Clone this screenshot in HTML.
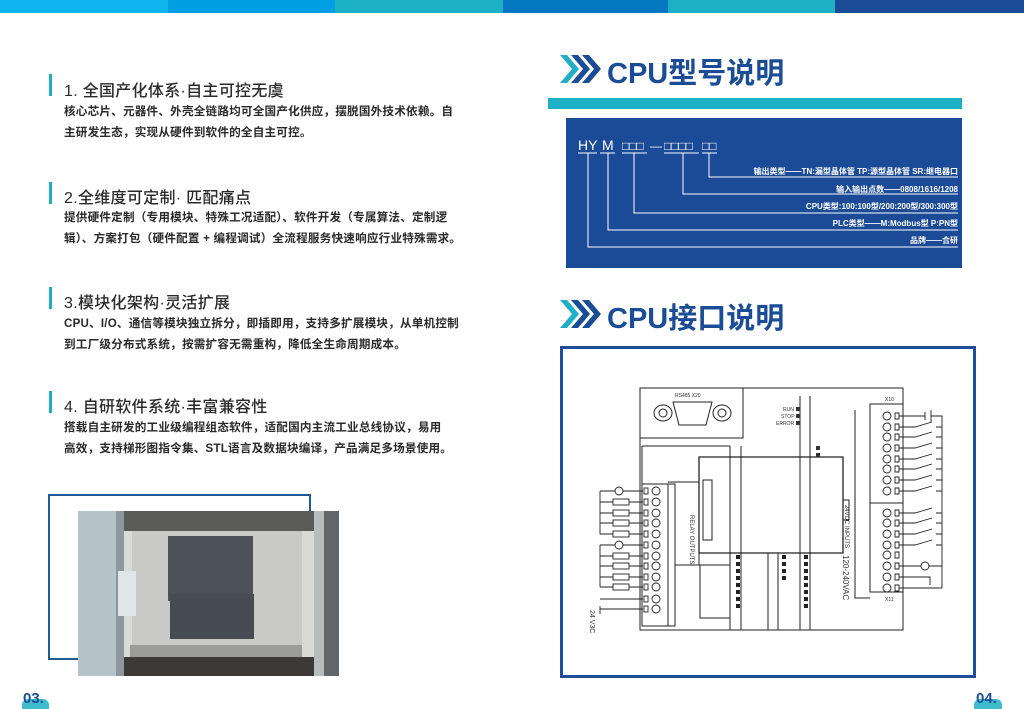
<!DOCTYPE html>
<html><head><meta charset="utf-8"><style>
*{margin:0;padding:0;box-sizing:border-box}
body{width:1024px;height:709px;overflow:hidden;background:#fff;position:relative;font-family:"Liberation Sans","Noto Sans CJK SC",sans-serif;color:#333}
.a{position:absolute}
.bar{position:absolute;top:0;height:13px}
.h{position:absolute;left:64px;font-size:16px;color:#2a2a2a;white-space:nowrap;font-weight:500;letter-spacing:0.3px}
.vb{position:absolute;left:49px;width:3px;height:22px;background:#1cb0bf}
.p{position:absolute;left:64px;font-size:11.6px;line-height:20.5px;color:#2a2a2a;white-space:nowrap;font-weight:bold;letter-spacing:0.2px}
.t{position:absolute;font-size:29px;font-weight:bold;color:#1b4c96;white-space:nowrap}
</style></head><body>
<div class="bar" style="left:0;width:168px;background:#0db4ee"></div>
<div class="bar" style="left:168px;width:167px;background:#009fe3"></div>
<div class="bar" style="left:335px;width:168px;background:#1cb1c4"></div>
<div class="bar" style="left:503px;width:165px;background:#0478c0"></div>
<div class="bar" style="left:668px;width:167px;background:#1cb1c4"></div>
<div class="bar" style="left:835px;width:189px;background:#1b4a96"></div>

<div class="vb" style="top:74px"></div>
<div class="h" style="top:77px">1. 全国产化体系·自主可控无虞</div>
<div class="p" style="top:102px">核心芯片、元器件、外壳全链路均可全国产化供应，摆脱国外技术依赖。自<br>主研发生态，实现从硬件到软件的全自主可控。</div>
<div class="vb" style="top:182px"></div>
<div class="h" style="top:184px">2.全维度可定制· 匹配痛点</div>
<div class="p" style="top:208px">提供硬件定制（专用模块、特殊工况适配）、软件开发（专属算法、定制逻<br>辑）、方案打包（硬件配置 + 编程调试）全流程服务快速响应行业特殊需求。</div>
<div class="vb" style="top:287px"></div>
<div class="h" style="top:289px">3.模块化架构·灵活扩展</div>
<div class="p" style="top:314px">CPU、I/O、通信等模块独立拆分，即插即用，支持多扩展模块，从单机控制<br>到工厂级分布式系统，按需扩容无需重构，降低全生命周期成本。</div>
<div class="vb" style="top:391px"></div>
<div class="h" style="top:393px">4. 自研软件系统·丰富兼容性</div>
<div class="p" style="top:418px">搭载自主研发的工业级编程组态软件，适配国内主流工业总线协议，易用<br>高效，支持梯形图指令集、STL语言及数据块编译，产品满足多场景使用。</div>

<!-- photo -->
<div class="a" style="left:48px;top:494px;width:263px;height:166px;border:2px solid #1f5a92"></div>
<div class="a" style="left:78px;top:511px;width:261px;height:165px;background:#d9d9d6;overflow:hidden">
 <div class="a" style="left:0;top:0;width:38px;height:165px;background:#b7c3cb"></div>
 <div class="a" style="left:38px;top:0;width:8px;height:165px;background:#8f979c"></div>
 <div class="a" style="left:46px;top:0;width:190px;height:20px;background:#5a5a58"></div>
 <div class="a" style="left:54px;top:20px;width:170px;height:135px;background:#c9cac7"></div>
 <div class="a" style="left:90px;top:25px;width:85px;height:65px;background:#4c5258"></div>
 <div class="a" style="left:92px;top:83px;width:84px;height:45px;background:#474c52"></div>
 <div class="a" style="left:52px;top:134px;width:172px;height:12px;background:#9c9d9b"></div>
 <div class="a" style="left:46px;top:146px;width:190px;height:19px;background:#3c3a38"></div>
 <div class="a" style="left:40px;top:60px;width:18px;height:45px;background:#dfe5e8"></div>
 <div class="a" style="left:236px;top:0;width:25px;height:165px;background:#b9bcbd"></div>
 <div class="a" style="left:246px;top:0;width:15px;height:165px;background:#62676b"></div>
</div>
<div class="a" style="left:22px;top:699px;width:27px;height:10px;border-radius:6px 6px 0 0;background:#1cb0c4;opacity:.85"></div>
<div class="a" style="left:23px;top:690px;font-size:15px;font-weight:bold;color:#1b4c96">03.</div>
<div class="a" style="left:974px;top:699px;width:28px;height:10px;border-radius:6px 6px 0 0;background:#1cb0c4;opacity:.85"></div>
<div class="a" style="left:976px;top:690px;font-size:15px;font-weight:bold;color:#1b4c96">04.</div>

<!-- right titles -->
<svg class="a" style="left:560px;top:53px" width="42" height="32" viewBox="0 0 42 32">
<polygon points="0,2 7,2 19,16 7,30 0,30 12,16" fill="#22aec7"/>
<polygon points="11,2 18,2 30,16 18,30 11,30 23,16" fill="#1b4c96"/>
<polygon points="22,2 29,2 41,16 29,30 22,30 34,16" fill="#1b4c96"/>
</svg>
<div class="t" style="left:607px;top:50px">CPU型号说明</div>
<svg class="a" style="left:560px;top:298px" width="42" height="32" viewBox="0 0 42 32">
<polygon points="0,2 7,2 19,16 7,30 0,30 12,16" fill="#22aec7"/>
<polygon points="11,2 18,2 30,16 18,30 11,30 23,16" fill="#1b4c96"/>
<polygon points="22,2 29,2 41,16 29,30 22,30 34,16" fill="#1b4c96"/>
</svg>
<div class="t" style="left:607px;top:295px">CPU接口说明</div>

<div class="a" style="left:548px;top:98px;width:414px;height:11px;background:#1cb1c4"></div>
<div class="a" style="left:566px;top:118px;width:396px;height:150px;background:#1b4a96"></div>
<svg class="a" style="left:566px;top:118px" width="396" height="150">
<g fill="#fff" font-family="Liberation Sans, Noto Sans CJK SC, sans-serif">
<text x="12" y="32" font-size="14">HY</text>
<text x="36" y="32" font-size="14">M</text>
<text x="56" y="32" font-size="12">□□□</text>
<text x="84" y="32" font-size="12">—</text>
<text x="98" y="32" font-size="12">□□□□</text>
<text x="136" y="32" font-size="12">□□</text>
<g font-size="8" text-anchor="end" font-weight="bold">
<text x="392" y="56">输出类型——TN:漏型晶体管 TP:源型晶体管 SR:继电器口</text>
<text x="392" y="74">输入输出点数——0808/1616/1208</text>
<text x="392" y="91">CPU类型:100:100型/200:200型/300:300型</text>
<text x="392" y="108">PLC类型——M:Modbus型 P:PN型</text>
<text x="392" y="125">品牌——合研</text>
</g></g>
<g stroke="#fff" stroke-width="1" fill="none">
<path d="M12 35H31M34 35H49M56 35H81M98 35H133M136 35H151"/>
<path d="M143 35V59H392"/>
<path d="M117 35V76H392"/>
<path d="M68 35V95H392"/>
<path d="M42 35V112H392"/>
<path d="M22 35V129H392"/>
</g>
</svg>

<!-- interface frame -->
<div class="a" style="left:560px;top:346px;width:416px;height:332px;border:3px solid #1f4e96"></div>
<svg class="a" style="left:560px;top:346px" width="416" height="332" font-family="Liberation Sans, sans-serif">
<g transform="translate(-560,-346)" stroke="#222" fill="none" stroke-width="1">
<path d="M640 388H903V630H640Z"/>
<path d="M640 438H743V388"/>
<path d="M743 388V438M730 446V630M741 446V630M800 396V630M810 396V630"/>
<path d="M642 446H730M642 446V484"/>
<path d="M699 457H843V553H699Z" stroke-width="1.3"/>
<path d="M699 457V482H668M699 553V565H675V626M668 484V626"/>
<path d="M700 565H730V618H700Z"/>
<ellipse cx="663" cy="413" rx="9" ry="8"/><ellipse cx="663" cy="413" rx="4" ry="4"/>
<ellipse cx="722" cy="413" rx="9" ry="8"/><ellipse cx="722" cy="413" rx="4" ry="4"/>
<path d="M673 402H712L706 425H679Z"/>
<path d="M642 484H675V626H642Z"/>
<path d="M870 404H903V592H870Z"/>
<path d="M870 503H903"/>
<path d="M843 500V520H849V500Z"/>
<path d="M703 480H712V540H703Z"/>
<path d="M768 553V630M778 553V630"/>
<path d="M855 410V598H870"/>
</g>
<g transform="translate(-560,-346)" fill="#333" font-size="5">
<text x="675" y="397">RS485 X20</text>
<text x="783" y="411">RUN</text><text x="781" y="418">STOP</text><text x="776" y="425">ERROR</text>
<rect x="796" y="407" width="4" height="4"/><rect x="796" y="414" width="4" height="4"/><rect x="796" y="421" width="4" height="4"/>
<rect x="816" y="446" width="4" height="4"/><rect x="816" y="453" width="4" height="4"/>
<text x="885" y="401">X10</text><text x="885" y="601">X11</text>
<text transform="translate(845,505) rotate(90)" font-size="6">24VDC INPUTS</text>
<text transform="translate(690,515) rotate(90)" font-size="6">RELAY OUTPUTS</text>
<text transform="translate(843,555) rotate(90)" font-size="8">120-240VAC</text>
<text transform="translate(590,610) rotate(90)" font-size="7">24 V3C</text>
</g>
<g transform="translate(-560,-346)" fill="none" stroke="#222" stroke-width="0.9">
<g>
<rect x="644" y="488" width="4" height="6"/><circle cx="656" cy="491" r="4"/>
<rect x="644" y="499" width="4" height="6"/><circle cx="656" cy="502" r="4"/>
<rect x="644" y="510" width="4" height="6"/><circle cx="656" cy="513" r="4"/>
<rect x="644" y="520" width="4" height="6"/><circle cx="656" cy="523" r="4"/>
<rect x="644" y="531" width="4" height="6"/><circle cx="656" cy="534" r="4"/>
<rect x="644" y="542" width="4" height="6"/><circle cx="656" cy="545" r="4"/>
<rect x="644" y="553" width="4" height="6"/><circle cx="656" cy="556" r="4"/>
<rect x="644" y="563" width="4" height="6"/><circle cx="656" cy="566" r="4"/>
<rect x="644" y="574" width="4" height="6"/><circle cx="656" cy="577" r="4"/>
<rect x="644" y="584" width="4" height="6"/><circle cx="656" cy="587" r="4"/>
<rect x="644" y="596" width="4" height="6"/><circle cx="656" cy="599" r="4"/>
<rect x="644" y="606" width="4" height="6"/><circle cx="656" cy="609" r="4"/>
</g>
<circle cx="619" cy="491" r="4"/><circle cx="619" cy="545" r="4"/>
<path d="M623 491H643M600 491H615M600 491V534M600 545H615M623 545H643M600 545V587"/>
<rect x="613" y="499" width="16" height="6"/><rect x="613" y="510" width="16" height="6"/><rect x="613" y="520" width="16" height="6"/><rect x="613" y="531" width="16" height="6"/>
<rect x="613" y="553" width="16" height="6"/><rect x="613" y="563" width="16" height="6"/><rect x="613" y="574" width="16" height="6"/><rect x="613" y="584" width="16" height="6"/>
<path d="M600 502H613M629 502H643M600 513H613M629 513H643M600 523H613M629 523H643M600 534H613M629 534H643"/>
<path d="M600 556H613M629 556H643M600 566H613M629 566H643M600 577H613M629 577H643M600 587H613M629 587H643"/>
<path d="M600 599H643M600 609H643M600 606V614"/>
<g>
<circle cx="887" cy="416" r="4"/><circle cx="887" cy="427" r="4"/><circle cx="887" cy="437" r="4"/><circle cx="887" cy="448" r="4"/>
<circle cx="887" cy="459" r="4"/><circle cx="887" cy="469" r="4"/><circle cx="887" cy="480" r="4"/><circle cx="887" cy="491" r="4"/>
<circle cx="887" cy="513" r="4"/><circle cx="887" cy="523" r="4"/><circle cx="887" cy="534" r="4"/><circle cx="887" cy="545" r="4"/>
<circle cx="887" cy="555" r="4"/><circle cx="887" cy="566" r="4"/><circle cx="887" cy="577" r="4"/><circle cx="887" cy="588" r="4"/>
<path d="M895 413h4v6h-4zM895 424h4v6h-4zM895 434h4v6h-4zM895 445h4v6h-4zM895 456h4v6h-4zM895 466h4v6h-4zM895 477h4v6h-4zM895 488h4v6h-4zM895 510h4v6h-4zM895 520h4v6h-4zM895 531h4v6h-4zM895 542h4v6h-4zM895 552h4v6h-4zM895 563h4v6h-4zM895 574h4v6h-4zM895 585h4v6h-4z"/>
</g>
<path d="M899 416H925M931 416H942V588M925 412V420M931 410V422"/>
<path d="M899 427H915L932 422M936 427H942M899 437H915L932 432M936 437H942M899 448H915L932 443M936 448H942M899 459H915L932 454M936 459H942M899 469H915L932 464M936 469H942M899 480H915L932 475M936 480H942M899 491H915L932 486M936 491H942"/>
<path d="M899 513H915L932 508M936 513H942M899 523H915L932 518M936 523H942M899 534H915L932 529M936 534H942M899 545H915L932 540M936 545H942"/>
<circle cx="925" cy="566" r="4"/><path d="M899 566H921M929 566H942M899 577H930V585M899 588H942"/>
</g>
<g transform="translate(-560,-346)" fill="#222">
<rect x="736" y="555" width="4" height="4"/><rect x="736" y="562" width="4" height="4"/><rect x="736" y="569" width="4" height="4"/><rect x="736" y="576" width="4" height="4"/><rect x="736" y="583" width="4" height="4"/><rect x="736" y="590" width="4" height="4"/><rect x="736" y="597" width="4" height="4"/><rect x="736" y="604" width="4" height="4"/>
<rect x="782" y="555" width="4" height="4"/><rect x="782" y="562" width="4" height="4"/><rect x="782" y="569" width="4" height="4"/><rect x="782" y="576" width="4" height="4"/>
<rect x="804" y="555" width="4" height="4"/><rect x="804" y="562" width="4" height="4"/><rect x="804" y="569" width="4" height="4"/><rect x="804" y="576" width="4" height="4"/><rect x="804" y="583" width="4" height="4"/><rect x="804" y="590" width="4" height="4"/><rect x="804" y="597" width="4" height="4"/><rect x="804" y="604" width="4" height="4"/>
</g>
</svg>
</body></html>
